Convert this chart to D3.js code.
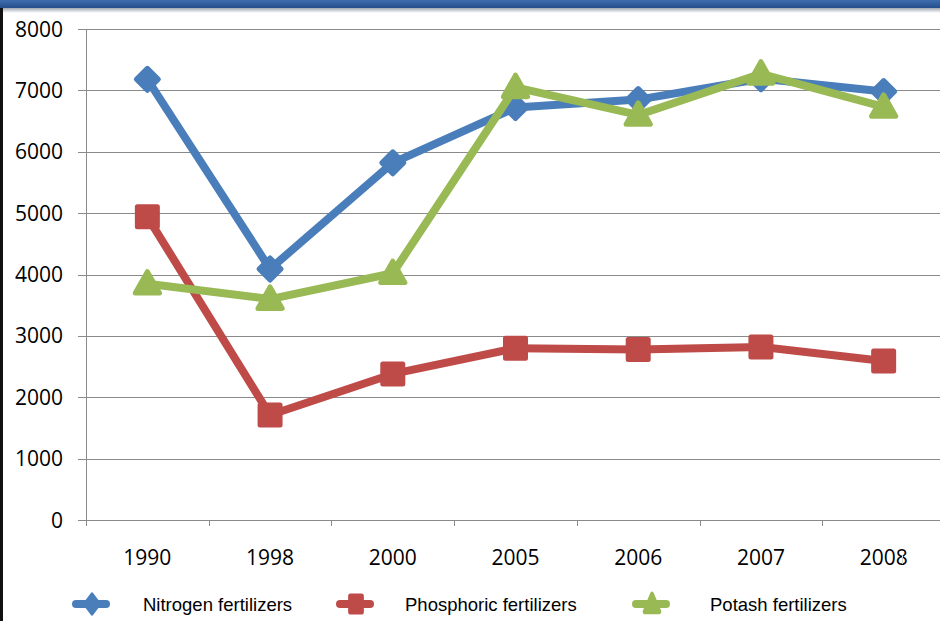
<!DOCTYPE html>
<html>
<head>
<meta charset="utf-8">
<script src="https://cdn.jsdelivr.net/npm/d3@7"></script>
<style>
  html, body { margin: 0; padding: 0; background: #fff; }
  svg { display: block; }
</style>
</head>
<body>
<svg id="chart" width="940" height="621"></svg>
<script>
const width = 940;
const height = 621;

// Data
const years = ["1990", "1998", "2000", "2005", "2006", "2007", "2008"];
const nitrogen = [7180, 4090, 5820, 6720, 6850, 7190, 6980];
const phosphoric = [4940, 1710, 2380, 2800, 2780, 2820, 2590];
const potash = [3850, 3600, 4020, 7050, 6600, 7270, 6730];
const yTicks = [0, 1000, 2000, 3000, 4000, 5000, 6000, 7000, 8000];
const seriesNames = ["Nitrogen fertilizers", "Phosphoric fertilizers", "Potash fertilizers"];

const series = [
  { name: seriesNames[0], values: nitrogen, color: "#4a7ebb", shape: "diamond" },
  { name: seriesNames[1], values: phosphoric, color: "#be4b48", shape: "square" },
  { name: seriesNames[2], values: potash, color: "#98b954", shape: "triangle" }
];

const svg = d3.select("#chart");
const defs = svg.append("defs");

// Frame pieces: blue band at the top, dark strip on the left
const grad = defs.append("linearGradient").attr("id", "topbar").attr("x1", 0).attr("y1", 0).attr("x2", 0).attr("y2", 1);
grad.append("stop").attr("offset", "0%").attr("stop-color", "#3f6dae");
grad.append("stop").attr("offset", "100%").attr("stop-color", "#244d8a");
const shade = defs.append("linearGradient").attr("id", "shade").attr("x1", 0).attr("y1", 0).attr("x2", 0).attr("y2", 1);
shade.append("stop").attr("offset", "0%").attr("stop-color", "#8e97a2");
shade.append("stop").attr("offset", "100%").attr("stop-color", "#ffffff");

svg.append("rect").attr("x", 0).attr("y", 7).attr("width", width).attr("height", 6).attr("fill", "url(#shade)");
svg.append("rect").attr("x", 0).attr("y", 0).attr("width", width).attr("height", 8).attr("fill", "url(#topbar)");
svg.append("rect").attr("x", 0).attr("y", 8).attr("width", 3).attr("height", height - 8).attr("fill", "#111");

// Scales
const x = d3.scaleBand().domain(years).range([86, 945]);
const y = d3.scaleLinear().domain([0, 8000]).range([520, 29]);

// Gridlines
svg.append("g")
  .selectAll("line")
  .data(yTicks)
  .join("line")
  .attr("x1", 78).attr("x2", width)
  .attr("y1", d => Math.round(y(d)) + 0.5)
  .attr("y2", d => Math.round(y(d)) + 0.5)
  .attr("stroke", "#8a8a8a")
  .attr("stroke-width", 1);

// Y axis line
svg.append("line")
  .attr("x1", 86.5).attr("x2", 86.5)
  .attr("y1", y(8000)).attr("y2", y(0) + 6)
  .attr("stroke", "#8a8a8a");

// X axis ticks at band edges
svg.append("g")
  .selectAll("line")
  .data(years.slice(1))
  .join("line")
  .attr("x1", d => Math.round(x(d)) + 0.5)
  .attr("x2", d => Math.round(x(d)) + 0.5)
  .attr("y1", y(0)).attr("y2", y(0) + 6)
  .attr("stroke", "#8a8a8a");

const axisFont = "'Open Sans', Lato, sans-serif";

// Y labels
svg.append("g")
  .selectAll("text")
  .data(yTicks)
  .join("text")
  .attr("x", 63)
  .attr("y", d => y(d))
  .attr("dy", "0.36em")
  .attr("text-anchor", "end")
  .attr("font-family", axisFont)
  .attr("font-size", 21)
  .attr("fill", "#000")
  .text(d => d);

// X labels
svg.append("g")
  .selectAll("text")
  .data(years)
  .join("text")
  .attr("x", d => x(d) + x.bandwidth() / 2)
  .attr("y", 565)
  .attr("text-anchor", "middle")
  .attr("font-family", axisFont)
  .attr("font-size", 21)
  .attr("fill", "#000")
  .text(d => d);

// faint clipped tick after last label
svg.append("line")
  .attr("x1", 902.5).attr("x2", 902.5)
  .attr("y1", 555).attr("y2", 564)
  .attr("stroke", "#d0d0d0");

// Marker shapes
function markerPath(shape, s) {
  if (shape === "diamond") return `M0,${-s}L${s},0L0,${s}L${-s},0Z`;
  if (shape === "square") return `M${-s},${-s}H${s}V${s}H${-s}Z`;
  return `M0,${-s * 1.1}L${s * 1.1},${s * 0.85}H${-s * 1.1}Z`;
}

const line = d3.line()
  .x((d, i) => x(years[i]) + x.bandwidth() / 2)
  .y(d => y(d));

series.forEach(s => {
  const g = svg.append("g");
  g.append("path")
    .attr("d", line(s.values))
    .attr("fill", "none")
    .attr("stroke", s.color)
    .attr("stroke-width", 8)
    .attr("stroke-linejoin", "round");
  const size = s.shape === "diamond" ? 11 : s.shape === "square" ? 10 : 11;
  g.selectAll("path.m")
    .data(s.values)
    .join("path")
    .attr("class", "m")
    .attr("transform", (d, i) => `translate(${x(years[i]) + x.bandwidth() / 2},${y(d)})`)
    .attr("d", markerPath(s.shape, size))
    .attr("fill", s.color)
    .attr("stroke", s.color)
    .attr("stroke-width", 5)
    .attr("stroke-linejoin", "round");
});

// Legend
const legendX = [92, 356, 652];
const legendTextX = [143, 405, 710];
const legendY = 604;
series.forEach((s, i) => {
  const g = svg.append("g");
  g.append("line")
    .attr("x1", legendX[i] - 16).attr("x2", legendX[i] + 14)
    .attr("y1", legendY).attr("y2", legendY)
    .attr("stroke", s.color)
    .attr("stroke-width", 8)
    .attr("stroke-linecap", "round");
  g.append("path")
    .attr("transform", `translate(${legendX[i]},${legendY}) scale(0.75,1)`)
    .attr("d", markerPath(s.shape, s.shape === "square" ? 8 : 9))
    .attr("fill", s.color)
    .attr("stroke", s.color)
    .attr("stroke-width", 5)
    .attr("stroke-linejoin", "round");
  g.append("text")
    .attr("x", legendTextX[i])
    .attr("y", legendY)
    .attr("dy", "0.36em")
    .attr("font-family", "'Liberation Sans', Arial, sans-serif")
    .attr("font-size", 18.5)
    .attr("fill", "#000")
    .text(s.name);
});
</script>
</body>
</html>
